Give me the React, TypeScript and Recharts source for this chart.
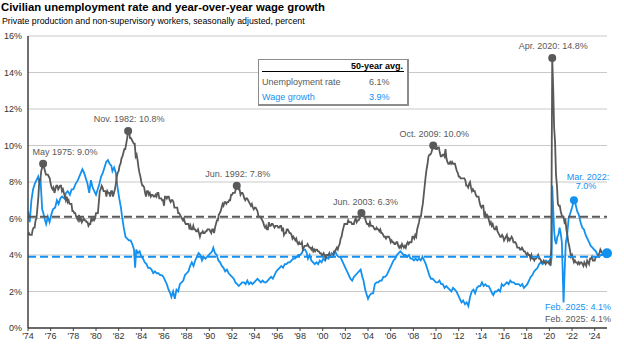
import {
  CartesianGrid,
  Line,
  LineChart,
  ReferenceDot,
  ReferenceLine,
  XAxis,
  YAxis,
} from "recharts";

// Monthly civilian unemployment rate, Jan 1974 → Feb 2025 (%)
const unemployment = [
  5.1, 5.2, 5.1, 5.1, 5.1, 5.4, 5.5, 5.5, 5.9, 6.0, 6.6, 7.2,
  8.1, 8.1, 8.6, 8.8, 9.0, 8.8, 8.6, 8.4, 8.4, 8.4, 8.3, 8.2,
  7.9, 7.7, 7.6, 7.7, 7.4, 7.6, 7.8, 7.8, 7.6, 7.7, 7.8, 7.8,
  7.5, 7.6, 7.4, 7.2, 7.0, 7.2, 6.9, 7.0, 6.8, 6.8, 6.8, 6.4,
  6.4, 6.3, 6.3, 6.1, 6.0, 5.9, 6.2, 5.9, 6.0, 5.8, 5.9, 6.0,
  5.9, 5.9, 5.8, 5.8, 5.6, 5.7, 5.7, 6.0, 5.9, 6.0, 5.9, 6.0,
  6.3, 6.3, 6.3, 6.9, 7.5, 7.6, 7.8, 7.7, 7.5, 7.5, 7.5, 7.2,
  7.5, 7.4, 7.4, 7.2, 7.5, 7.5, 7.2, 7.4, 7.6, 7.9, 8.3, 8.5,
  8.6, 8.9, 9.0, 9.3, 9.4, 9.6, 9.8, 9.8, 10.1, 10.4, 10.8, 10.8,
  10.4, 10.4, 10.3, 10.2, 10.1, 10.1, 9.4, 9.5, 9.2, 8.8, 8.5, 8.3,
  8.0, 7.8, 7.8, 7.7, 7.4, 7.2, 7.5, 7.5, 7.3, 7.4, 7.2, 7.3,
  7.3, 7.2, 7.2, 7.3, 7.2, 7.4, 7.4, 7.1, 7.1, 7.1, 7.0, 7.0,
  6.7, 7.2, 7.2, 7.1, 7.2, 7.2, 7.0, 6.9, 7.0, 7.0, 6.9, 6.6,
  6.6, 6.6, 6.6, 6.3, 6.3, 6.2, 6.1, 6.0, 5.9, 6.0, 5.8, 5.7,
  5.7, 5.7, 5.7, 5.4, 5.6, 5.4, 5.4, 5.6, 5.4, 5.4, 5.3, 5.3,
  5.4, 5.2, 5.0, 5.2, 5.2, 5.3, 5.2, 5.2, 5.3, 5.3, 5.4, 5.4,
  5.4, 5.3, 5.2, 5.4, 5.4, 5.2, 5.5, 5.7, 5.9, 5.9, 6.2, 6.3,
  6.4, 6.6, 6.8, 6.7, 6.9, 6.9, 6.8, 6.9, 6.9, 7.0, 7.0, 7.3,
  7.3, 7.4, 7.4, 7.4, 7.6, 7.8, 7.7, 7.6, 7.6, 7.3, 7.4, 7.4,
  7.3, 7.1, 7.0, 7.1, 7.1, 7.0, 6.9, 6.8, 6.7, 6.8, 6.6, 6.5,
  6.6, 6.6, 6.5, 6.4, 6.1, 6.1, 6.1, 6.0, 5.9, 5.8, 5.6, 5.5,
  5.6, 5.4, 5.4, 5.8, 5.6, 5.6, 5.7, 5.7, 5.6, 5.5, 5.6, 5.6,
  5.6, 5.5, 5.5, 5.6, 5.6, 5.3, 5.5, 5.1, 5.2, 5.2, 5.4, 5.4,
  5.3, 5.2, 5.2, 5.1, 4.9, 5.0, 4.9, 4.8, 4.9, 4.7, 4.6, 4.7,
  4.6, 4.6, 4.7, 4.3, 4.4, 4.5, 4.5, 4.5, 4.6, 4.5, 4.4, 4.4,
  4.3, 4.4, 4.2, 4.3, 4.2, 4.3, 4.3, 4.2, 4.2, 4.1, 4.1, 4.0,
  4.0, 4.1, 4.0, 3.8, 4.0, 4.0, 4.0, 4.1, 3.9, 3.9, 3.9, 3.9,
  4.2, 4.2, 4.3, 4.4, 4.3, 4.5, 4.6, 4.9, 5.0, 5.3, 5.5, 5.7,
  5.7, 5.7, 5.7, 5.9, 5.8, 5.8, 5.8, 5.7, 5.7, 5.7, 5.9, 6.0,
  5.8, 5.9, 5.9, 6.0, 6.1, 6.3, 6.2, 6.1, 6.1, 6.0, 5.8, 5.7,
  5.7, 5.6, 5.8, 5.6, 5.6, 5.6, 5.5, 5.4, 5.4, 5.5, 5.4, 5.4,
  5.3, 5.4, 5.2, 5.2, 5.1, 5.0, 5.0, 4.9, 5.0, 5.0, 5.0, 4.9,
  4.7, 4.8, 4.7, 4.7, 4.6, 4.6, 4.7, 4.7, 4.5, 4.4, 4.5, 4.4,
  4.6, 4.5, 4.4, 4.5, 4.4, 4.6, 4.7, 4.6, 4.7, 4.7, 4.7, 5.0,
  5.0, 4.9, 5.1, 5.0, 5.4, 5.6, 5.8, 6.1, 6.1, 6.5, 6.8, 7.3,
  7.8, 8.3, 8.7, 9.0, 9.4, 9.5, 9.5, 9.6, 9.8, 10.0, 9.9, 9.9,
  9.8, 9.8, 9.9, 9.9, 9.6, 9.4, 9.4, 9.5, 9.5, 9.4, 9.8, 9.3,
  9.1, 9.0, 9.0, 9.1, 9.0, 9.1, 9.0, 9.0, 9.0, 8.8, 8.6, 8.5,
  8.3, 8.3, 8.2, 8.2, 8.2, 8.2, 8.2, 8.1, 7.8, 7.8, 7.7, 7.9,
  8.0, 7.7, 7.5, 7.6, 7.5, 7.5, 7.3, 7.2, 7.2, 7.2, 6.9, 6.7,
  6.6, 6.7, 6.7, 6.2, 6.3, 6.1, 6.2, 6.1, 5.9, 5.7, 5.8, 5.6,
  5.7, 5.5, 5.4, 5.4, 5.6, 5.3, 5.2, 5.1, 5.0, 5.0, 5.1, 5.0,
  4.8, 4.9, 5.0, 5.1, 4.8, 4.9, 4.8, 4.9, 5.0, 4.9, 4.7, 4.7,
  4.7, 4.6, 4.4, 4.4, 4.4, 4.3, 4.3, 4.4, 4.3, 4.2, 4.2, 4.1,
  4.0, 4.1, 4.0, 4.0, 3.8, 4.0, 3.8, 3.8, 3.7, 3.8, 3.8, 3.9,
  4.0, 3.8, 3.8, 3.7, 3.6, 3.6, 3.7, 3.6, 3.5, 3.6, 3.6, 3.6,
  3.5, 3.5, 4.4, 14.8, 13.2, 11.0, 10.2, 8.4, 7.8, 6.8, 6.7, 6.7,
  6.4, 6.2, 6.1, 6.1, 5.8, 5.9, 5.4, 5.1, 4.7, 4.5, 4.2, 3.9,
  4.0, 3.8, 3.6, 3.7, 3.6, 3.6, 3.5, 3.6, 3.5, 3.6, 3.6, 3.5,
  3.4, 3.6, 3.5, 3.4, 3.7, 3.6, 3.5, 3.8, 3.8, 3.9, 3.7, 3.7,
  3.7, 3.9, 3.9, 3.9, 4.0, 4.1, 4.3, 4.2, 4.1, 4.1, 4.2, 4.1,
  4.0, 4.1,
];

// Year-over-year wage growth, [decimal year, %]
const wageGrowth: [number, number][] = [
  [1974.0, 6.4], [1974.15, 5.8], [1974.3, 7.0], [1974.45, 7.6], [1974.6, 7.9], [1974.75, 8.1],
  [1974.9, 8.3], [1975.0, 8.0], [1975.1, 8.2], [1975.25, 6.5], [1975.35, 6.3], [1975.5, 5.9],
  [1975.6, 5.7], [1975.75, 6.1], [1975.9, 5.8], [1976.05, 6.2], [1976.2, 6.5], [1976.4, 6.6],
  [1976.55, 7.0], [1976.7, 6.8], [1976.85, 7.1], [1977.0, 7.2], [1977.2, 7.1], [1977.35, 7.4],
  [1977.5, 7.5], [1977.7, 7.3], [1977.85, 7.6], [1978.0, 7.6], [1978.2, 7.9], [1978.4, 8.1],
  [1978.6, 8.4], [1978.8, 8.7], [1978.95, 8.5], [1979.1, 8.2], [1979.25, 7.9], [1979.4, 7.4],
  [1979.55, 8.1], [1979.7, 7.7], [1979.85, 7.5], [1980.0, 7.3], [1980.15, 7.6], [1980.3, 7.9],
  [1980.45, 8.3], [1980.6, 8.5], [1980.75, 8.8], [1980.9, 9.1], [1981.05, 9.2], [1981.2, 9.0],
  [1981.35, 8.9], [1981.45, 8.6], [1981.6, 8.8], [1981.75, 8.5], [1981.9, 7.7], [1982.05, 7.1],
  [1982.2, 6.6], [1982.3, 6.1], [1982.45, 5.5], [1982.6, 5.0], [1982.75, 4.9], [1982.9, 4.8],
  [1983.05, 4.8], [1983.2, 4.6], [1983.35, 4.3], [1983.45, 3.3], [1983.55, 4.3], [1983.7, 4.1],
  [1983.85, 4.2], [1984.0, 3.9], [1984.15, 3.8], [1984.3, 3.6], [1984.45, 3.5], [1984.6, 3.3],
  [1984.75, 3.3], [1984.9, 3.2], [1985.05, 3.0], [1985.2, 3.1], [1985.35, 3.0], [1985.5, 3.0],
  [1985.65, 2.9], [1985.8, 2.9], [1985.95, 2.8], [1986.1, 2.6], [1986.25, 2.4], [1986.4, 2.1],
  [1986.55, 1.9], [1986.65, 1.7], [1986.8, 2.0], [1986.95, 1.6], [1987.1, 2.1], [1987.25, 2.0],
  [1987.4, 2.4], [1987.55, 2.5], [1987.7, 2.6], [1987.85, 2.9], [1988.0, 3.0], [1988.15, 3.1],
  [1988.3, 3.4], [1988.45, 3.6], [1988.6, 3.4], [1988.75, 3.7], [1988.9, 3.9], [1989.05, 4.1],
  [1989.2, 4.0], [1989.35, 3.7], [1989.5, 3.9], [1989.65, 3.8], [1989.8, 3.9], [1989.95, 4.0],
  [1990.1, 4.1], [1990.25, 4.2], [1990.35, 4.4], [1990.5, 4.1], [1990.65, 4.0], [1990.8, 3.7],
  [1990.95, 3.6], [1991.1, 3.4], [1991.25, 3.3], [1991.4, 3.1], [1991.55, 3.2], [1991.7, 3.0],
  [1991.85, 2.9], [1992.0, 2.8], [1992.15, 2.7], [1992.3, 2.5], [1992.45, 2.4], [1992.6, 2.3],
  [1992.75, 2.4], [1992.9, 2.5], [1993.05, 2.5], [1993.2, 2.4], [1993.35, 2.6], [1993.5, 2.4],
  [1993.65, 2.5], [1993.8, 2.4], [1993.95, 2.5], [1994.1, 2.6], [1994.25, 2.7], [1994.4, 2.6],
  [1994.55, 2.5], [1994.7, 2.6], [1994.85, 2.5], [1995.0, 2.5], [1995.15, 2.6], [1995.3, 2.7],
  [1995.45, 2.8], [1995.6, 2.7], [1995.75, 2.9], [1995.9, 3.1], [1996.05, 3.2], [1996.2, 3.3],
  [1996.35, 3.4], [1996.5, 3.3], [1996.65, 3.5], [1996.8, 3.5], [1996.95, 3.6], [1997.1, 3.6],
  [1997.25, 3.7], [1997.4, 3.8], [1997.55, 3.8], [1997.7, 3.9], [1997.85, 4.0], [1998.0, 4.0],
  [1998.15, 4.1], [1998.3, 4.3], [1998.45, 4.3], [1998.6, 4.1], [1998.7, 3.8], [1998.85, 4.0],
  [1999.0, 3.7], [1999.15, 3.6], [1999.3, 3.5], [1999.45, 3.6], [1999.6, 3.5], [1999.75, 3.7],
  [1999.9, 3.6], [2000.05, 3.8], [2000.2, 3.7], [2000.35, 3.9], [2000.5, 3.8], [2000.65, 3.9],
  [2000.8, 4.1], [2000.95, 4.0], [2001.1, 4.2], [2001.25, 4.0], [2001.4, 3.9], [2001.55, 3.9],
  [2001.7, 3.7], [2001.85, 3.5], [2002.0, 3.3], [2002.15, 3.1], [2002.3, 2.9], [2002.45, 2.7],
  [2002.6, 2.6], [2002.75, 2.8], [2002.9, 2.9], [2003.05, 3.0], [2003.2, 3.1], [2003.35, 3.2],
  [2003.5, 2.8], [2003.6, 2.6], [2003.75, 2.1], [2003.9, 1.8], [2004.0, 1.6], [2004.15, 1.8],
  [2004.3, 1.9], [2004.45, 1.9], [2004.6, 2.4], [2004.75, 2.5], [2004.9, 2.5], [2005.05, 2.6],
  [2005.2, 2.6], [2005.35, 2.8], [2005.5, 2.8], [2005.65, 2.9], [2005.8, 3.1], [2005.95, 3.3],
  [2006.1, 3.5], [2006.25, 3.7], [2006.4, 3.8], [2006.55, 4.0], [2006.7, 4.1], [2006.85, 4.2],
  [2007.0, 4.1], [2007.15, 4.0], [2007.3, 4.0], [2007.45, 3.9], [2007.6, 4.0], [2007.75, 3.8],
  [2007.9, 3.8], [2008.05, 3.7], [2008.2, 3.8], [2008.35, 3.7], [2008.5, 3.8], [2008.65, 3.7],
  [2008.8, 3.9], [2008.95, 3.7], [2009.1, 3.5], [2009.25, 3.2], [2009.4, 2.9], [2009.55, 2.7],
  [2009.7, 2.7], [2009.85, 2.6], [2010.0, 2.5], [2010.15, 2.5], [2010.3, 2.6], [2010.45, 2.4],
  [2010.6, 2.4], [2010.75, 2.2], [2010.9, 2.3], [2011.05, 2.2], [2011.2, 2.1], [2011.35, 2.0],
  [2011.5, 2.2], [2011.65, 2.1], [2011.8, 2.0], [2011.95, 1.8], [2012.1, 1.6], [2012.25, 1.4],
  [2012.4, 1.5], [2012.55, 1.3], [2012.7, 1.4], [2012.85, 1.2], [2013.0, 1.7], [2013.15, 2.0],
  [2013.3, 2.1], [2013.45, 1.9], [2013.6, 2.2], [2013.75, 2.3], [2013.9, 2.3], [2014.05, 2.5],
  [2014.2, 2.3], [2014.35, 2.4], [2014.5, 2.3], [2014.65, 2.3], [2014.8, 2.1], [2014.95, 1.9],
  [2015.05, 1.8], [2015.2, 2.0], [2015.35, 2.0], [2015.5, 2.1], [2015.65, 2.0], [2015.8, 2.4],
  [2015.95, 2.3], [2016.1, 2.4], [2016.25, 2.5], [2016.4, 2.4], [2016.55, 2.6], [2016.7, 2.5],
  [2016.85, 2.5], [2017.0, 2.4], [2017.15, 2.4], [2017.3, 2.4], [2017.45, 2.3], [2017.6, 2.4],
  [2017.75, 2.2], [2017.9, 2.3], [2018.05, 2.4], [2018.2, 2.6], [2018.35, 2.8], [2018.5, 2.9],
  [2018.65, 3.1], [2018.8, 3.2], [2018.95, 3.3], [2019.1, 3.5], [2019.25, 3.6], [2019.4, 3.5],
  [2019.55, 3.6], [2019.7, 3.7], [2019.85, 3.6], [2020.0, 3.7], [2020.1, 3.4], [2020.2, 3.9],
  [2020.25, 7.8], [2020.33, 6.6], [2020.42, 5.3], [2020.5, 4.8], [2020.6, 4.6], [2020.7, 5.0],
  [2020.8, 5.1], [2020.9, 5.5], [2021.0, 5.2], [2021.1, 4.7], [2021.25, 1.4], [2021.35, 3.2],
  [2021.45, 4.7], [2021.55, 5.0], [2021.7, 6.0], [2021.85, 6.3], [2022.0, 6.6], [2022.17, 7.0],
  [2022.3, 6.8], [2022.45, 6.4], [2022.6, 6.2], [2022.75, 5.8], [2022.9, 5.5], [2023.05, 5.4],
  [2023.2, 5.1], [2023.35, 4.9], [2023.5, 4.7], [2023.65, 4.5], [2023.8, 4.4], [2023.95, 4.3],
  [2024.1, 4.2], [2024.25, 4.0], [2024.4, 3.9], [2024.55, 4.0], [2024.7, 4.0], [2024.85, 4.1],
  [2025.083, 4.1],
];

const xTicks = [
  1974, 1976, 1978, 1980, 1982, 1984, 1986, 1988, 1990, 1992, 1994, 1996, 1998,
  2000, 2002, 2004, 2006, 2008, 2010, 2012, 2014, 2016, 2018, 2020, 2022, 2024,
];
const yTicks = [0, 2, 4, 6, 8, 10, 12, 14, 16];

const UNEMP_AVG = 6.1;
const WAGE_AVG = 3.9;

// Annotated points: [year, month, value, label]
const unempPeaks: [number, number, number, string][] = [
  [1975, 5, 9.0, "May 1975: 9.0%"],
  [1982, 11, 10.8, "Nov. 1982: 10.8%"],
  [1992, 6, 7.8, "Jun. 1992: 7.8%"],
  [2003, 6, 6.3, "Jun. 2003: 6.3%"],
  [2009, 10, 10.0, "Oct. 2009: 10.0%"],
  [2020, 4, 14.8, "Apr. 2020: 14.8%"],
];
const wagePeak: [number, number, number, string[]] = [2022, 3, 7.0, ["Mar. 2022:", "7.0%"]];
const latest: [number, number, number, string] = [2025, 2, 4.1, "Feb. 2025: 4.1%"];

const GRAY = "#595959";
const BLUE = "#1391f0";
const FONT = "'Liberation Sans', Arial, sans-serif";

const toT = (y: number, m: number) => y + (m - 1) / 12;
const unempData = unemployment.map((v, i) => ({ t: 1974 + i / 12, v }));
const wageData = wageGrowth.map(([t, v]) => ({ t, v }));

export default function App() {
  const W = 624;
  const H = 352;
  return (
    <div style={{ position: "absolute", left: 0, top: 0, width: W, height: H, fontFamily: FONT, background: "#fff" }}>
      <div style={{ position: "absolute", left: 1, top: 0, fontSize: 11.3, fontWeight: 700, color: "#000", whiteSpace: "nowrap", lineHeight: "14px" }}>
        Civilian unemployment rate and year-over-year wage growth
      </div>
      <div style={{ position: "absolute", left: 2, top: 16, fontSize: 8.8, color: "#000", whiteSpace: "nowrap", lineHeight: "11px" }}>
        Private production and non-supervisory workers, seasonally adjusted, percent
      </div>
      <LineChart
        width={W}
        height={H}
        margin={{ top: 36, right: 17, bottom: 0, left: 0 }}
        style={{ fontFamily: FONT }}
      >
        <CartesianGrid vertical={false} stroke="#c9c9c9" strokeWidth={1.2} />
        <XAxis
          type="number"
          dataKey="t"
          domain={[1974, 2025.083]}
          ticks={xTicks}
          allowDataOverflow
          tickFormatter={(v: number) => `'${String(v).slice(2)}`}
          height={24}
          axisLine={{ stroke: "#404040", strokeWidth: 1.5 }}
          tickLine={{ stroke: "#404040" }}
          tickSize={3}
          tickMargin={2}
          tick={{ fill: "#333", fontSize: 9 }}
        />
        <YAxis
          type="number"
          domain={[0, 16]}
          ticks={yTicks}
          width={28}
          tickFormatter={(v: number) => `${v}%`}
          axisLine={{ stroke: "#404040", strokeWidth: 1.5 }}
          tickLine={false}
          tickSize={4}
          tickMargin={2}
          tick={{ fill: "#333", fontSize: 9 }}
        />
        <Line
          data={wageData}
          dataKey="v"
          type="linear"
          stroke={BLUE}
          strokeWidth={1.8}
          dot={false}
          activeDot={false}
          isAnimationActive={false}
        />
        <Line
          data={unempData}
          dataKey="v"
          type="linear"
          stroke={GRAY}
          strokeWidth={1.8}
          dot={false}
          activeDot={false}
          isAnimationActive={false}
        />
        <ReferenceLine y={UNEMP_AVG} stroke={GRAY} strokeWidth={2} strokeDasharray="8 4" />
        <ReferenceLine y={WAGE_AVG} stroke={BLUE} strokeWidth={2} strokeDasharray="8 4" />
        {unempPeaks.map(([y, m, v, label], i) => (
          <ReferenceDot
            key={label}
            x={toT(y, m)}
            y={v}
            ifOverflow="visible"
            shape={(p: any) => (
              <g>
                <circle cx={p.cx} cy={p.cy} r={4} fill={GRAY} />
                <text
                  x={p.cx + (i === 0 ? 22 : i === 3 ? 4 : 1)}
                  y={p.cy - 8.5}
                  textAnchor="middle"
                  fontSize={9}
                  fill={GRAY}
                  fontFamily={FONT}
                >
                  {label}
                </text>
              </g>
            )}
          />
        ))}
        <ReferenceDot
          x={toT(wagePeak[0], wagePeak[1])}
          y={wagePeak[2]}
          ifOverflow="visible"
          shape={(p: any) => (
            <g>
              <circle cx={p.cx} cy={p.cy} r={4} fill={BLUE} />
              <text x={p.cx + 14} y={p.cy - 20} textAnchor="middle" fontSize={9} fill={BLUE} fontFamily={FONT}>
                {wagePeak[3][0]}
              </text>
              <text x={p.cx + 12} y={p.cy - 11} textAnchor="middle" fontSize={9} fill={BLUE} fontFamily={FONT}>
                {wagePeak[3][1]}
              </text>
            </g>
          )}
        />
        <ReferenceDot
          x={toT(latest[0], latest[1])}
          y={latest[2]}
          ifOverflow="visible"
          shape={(p: any) => (
            <g>
              <circle cx={p.cx} cy={p.cy} r={5} fill={BLUE} />
              <text x={p.cx + 4} y={p.cy + 57} textAnchor="end" fontSize={9} fill={BLUE} fontFamily={FONT}>
                {latest[3]}
              </text>
              <text x={p.cx + 4} y={p.cy + 69} textAnchor="end" fontSize={9} fill={GRAY} fontFamily={FONT}>
                {latest[3]}
              </text>
            </g>
          )}
        />
      </LineChart>
      <div
        style={{
          position: "absolute",
          left: 258,
          top: 59,
          width: 148,
          height: 44,
          border: "1px solid #8c8c8c",
          borderRightWidth: 2,
          borderBottomWidth: 2,
          background: "#fff",
          fontSize: 9,
          lineHeight: "11px",
        }}
      >
        <div style={{ position: "absolute", left: 92, top: 1, fontWeight: 700, color: "#000" }}>50-year avg.</div>
        <div style={{ position: "absolute", left: 3, right: 3, top: 11, borderTop: "1px solid #000" }} />
        <div style={{ position: "absolute", left: 3, top: 17, color: GRAY }}>Unemployment rate</div>
        <div style={{ position: "absolute", left: 110, top: 17, color: GRAY }}>{UNEMP_AVG.toFixed(1)}%</div>
        <div style={{ position: "absolute", left: 3, top: 32, color: BLUE }}>Wage growth</div>
        <div style={{ position: "absolute", left: 110, top: 32, color: BLUE }}>{WAGE_AVG.toFixed(1)}%</div>
      </div>
    </div>
  );
}
